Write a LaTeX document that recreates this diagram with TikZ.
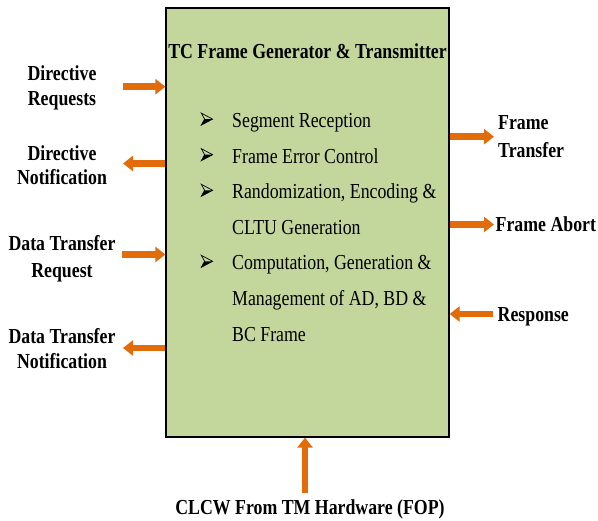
\documentclass[tikz,border=0pt]{standalone}
\usepackage{fontspec}
\usepackage{graphicx}
\setmainfont{Liberation Serif}
\usetikzlibrary{arrows.meta}
\definecolor{boxgreen}{HTML}{C3D69B}
\definecolor{arroworange}{HTML}{E36C0A}
\newcommand{\vs}[1]{\scalebox{1}[1.2]{#1}}
\begin{document}
\begin{tikzpicture}[x=1pt,y=-1pt,
  lbl/.style={font=\fontsize{17.8}{22}\selectfont\bfseries, inner sep=0pt, anchor=base},
  lblw/.style={lbl, anchor=base west},
  itm/.style={font=\fontsize{17.8}{22}\selectfont, inner sep=0pt, anchor=base west},
  flow/.style={draw=arroworange, line width=6.5pt, -{Triangle[width=15pt,length=10pt]}},
  bulletarrow/.pic={
    \draw[line width=0.7pt, line join=miter] (-5.5,-6) -- (5.8,0) -- (-5.5,6) -- (-2.2,0) -- cycle;
    \fill (-2.2,0) -- (5.8,0) -- (-5.5,6) -- cycle;
  }]
\useasboundingbox (0,0) rectangle (598,521);

% main block
\node[draw=black, line width=1.2pt, fill=boxgreen, minimum width=283pt, minimum height=429pt, inner sep=0pt] (box) at (307.5,222.5) {};

% title
\node[lbl] (title) at (307.5,58.5) {\vs{TC Frame Generator \& Transmitter}};

% bullet list
\foreach \yy in {127.8,163.4,199.0,270.0} {
  \pic at (206.8,\yy-8.7) {bulletarrow};
}
\node[itm] (i1) at (232,127.8) {\vs{Segment Reception}};
\node[itm] (i2) at (232,163.4) {\vs{Frame Error Control}};
\node[itm] (i3) at (232,199.0) {\vs{Randomization, Encoding \&}};
\node[itm] (i4) at (232,234.5) {\vs{CLTU Generation}};
\node[itm] (i5) at (232,270.0) {\vs{Computation, Generation \&}};
\node[itm] (i6) at (232,305.7) {\vs{Management of AD, BD \&}};
\node[itm] (i7) at (232,341.4) {\vs{BC Frame}};

% left labels
\node[lbl] (drA) at (62,80.7) {\vs{Directive}};
\node[lbl] (drB) at (62,105.5) {\vs{Requests}};
\node[lbl] (dnA) at (62,160.7) {\vs{Directive}};
\node[lbl] (dnB) at (62,185) {\vs{Notification}};
\node[lbl] (tqA) at (62,250.7) {\vs{Data Transfer}};
\node[lbl] (tqB) at (62,278) {\vs{Request}};
\node[lbl] (tnA) at (62,343.3) {\vs{Data Transfer}};
\node[lbl] (tnB) at (62,368.3) {\vs{Notification}};

% right labels
\node[lblw] (ftA) at (498,130) {\vs{Frame}};
\node[lblw] (ftB) at (498,157.3) {\vs{Transfer}};
\node[lblw] (fa) at (495.5,231.7) {\vs{Frame Abort}};
\node[lblw] (rs) at (497.5,321.5) {\vs{Response}};

% bottom label
\node[lbl] (clcw) at (310,514.3) {\vs{CLCW From TM Hardware (FOP)}};

% arrow free ends
\coordinate (cdr) at (123,86.7);
\coordinate (cdn) at (123,163.5);
\coordinate (ctq) at (122,254.5);
\coordinate (ctn) at (123,348);
\coordinate (cft) at (494,136.7);
\coordinate (cfa) at (494,224.5);
\coordinate (crs) at (493,314);
\coordinate (ccl) at (305,493);

\draw[flow] (cdr) -- (cdr -| box.west);
\draw[flow] (cdn -| box.west) -- (cdn);
\draw[flow] (ctq) -- (ctq -| box.west);
\draw[flow] (ctn -| box.west) -- (ctn);
\draw[flow] (cft -| box.east) -- (cft);
\draw[flow] (cfa -| box.east) -- (cfa);
\draw[flow] (crs) -- (crs -| box.east);
\draw[flow] (ccl) -- (ccl |- box.south);
\end{tikzpicture}
\end{document}
